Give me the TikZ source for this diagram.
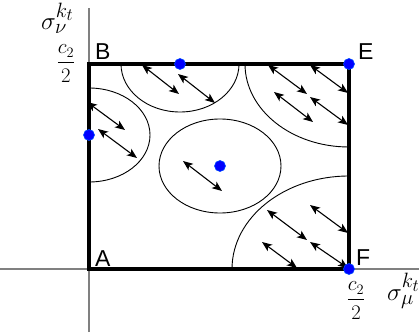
\documentclass[tikz,border=0pt]{standalone}
\usepackage{fontspec}
\setmainfont{Liberation Sans}
\usepackage{amsmath}
\usetikzlibrary{arrows.meta}
\tikzset{
  axisline/.style={draw=gray, line width=1.4pt},
  frameline/.style={draw=black, line width=3.2pt, line join=miter},
  region/.style={draw=black, line width=0.9pt},
  dbl/.style={line width=1.1pt, {Stealth[length=10pt,width=8pt,inset=2.5pt]}-{Stealth[length=10pt,width=8pt,inset=2.5pt]}},
  bluedot/.style={circle, fill=blue, draw=blue!70!cyan, line width=0.6pt, minimum size=11pt, inner sep=0pt},
  cornerlabel/.style={font=\fontsize{23}{26}\selectfont, inner sep=0pt},
  mathlabel/.style={font=\fontsize{24.88}{28}\selectfont, inner sep=0pt},
  fraclabel/.style={font=\fontsize{20.74}{24}\selectfont, inner sep=0pt}
}
\begin{document}
\begin{tikzpicture}[x=1pt,y=-1pt]
\useasboundingbox (0,0) rectangle (419,336);
% axes
\coordinate (vtop) at (89,8);
\coordinate (vbot) at (89,332);
\coordinate (hleft) at (0,269);
\coordinate (hright) at (419,269);
\draw[axisline] (vbot) -- (vtop);
\draw[axisline] (hleft) -- (hright);
% corners
\coordinate (cA) at (89,269);
\coordinate (cB) at (89,64);
\coordinate (cE) at (349,64);
\coordinate (cF) at (349,269);
% regions
\begin{scope}
\clip (cB) rectangle (cF);
\draw[region] (180,64) ellipse [x radius=59pt, y radius=48pt];
\draw[region] (89,135) ellipse [x radius=61pt, y radius=47pt];
\draw[region] (220,166) ellipse [x radius=61pt, y radius=47pt];
\draw[region] (cE) ellipse [x radius=104pt, y radius=83pt];
\draw[region] (cF) ellipse [x radius=117pt, y radius=93pt];
\end{scope}
% arrows
\foreach \i/\sx/\sy/\ex/\ey in {
 1/87/102/125/130, 2/98/129/137/158, 3/142/65/179/94, 4/178/74/215/103,
 5/183/161/222/191, 6/268/65/307/94, 7/310/65/348/93, 8/274/92/313/122,
 9/310/97/348/125, 10/267/210/307/240, 11/310/205/348/233,
 12/262/242/297/268, 13/310/242/348/268}{
 \coordinate (s\i) at (\sx,\sy);
 \coordinate (e\i) at (\ex,\ey);
 \draw[dbl] (s\i) -- (e\i);
}
% frame
\draw[frameline] (cA) -- (cB) -- (cE) -- (cF) -- cycle;
% dots
\node[bluedot] (d1) at (180,64) {};
\node[bluedot] (d2) at (89,135) {};
\node[bluedot] (d3) at (220,166) {};
\node[bluedot] (d4) at (cE) {};
\node[bluedot] (d5) at (cF) {};
% corner labels
\node[cornerlabel, anchor=base west] (lA) at (95,266) {A};
\node[cornerlabel, anchor=base west] (lB) at (95,60) {B};
\node[cornerlabel, anchor=base west] (lE) at (358,60) {E};
\node[cornerlabel, anchor=base west] (lF) at (356,265) {F};
% axis labels
\node[mathlabel, anchor=base west] (snu) at (41,29.5) {$\sigma_\nu^{k_t}$};
\node[mathlabel, anchor=base west] (smu) at (387,300) {$\sigma_\mu^{k_t}$};
\node[fraclabel, anchor=base] (fnu) at (66,68) {$\displaystyle\frac{c_2}{2}$};
\node[fraclabel, anchor=base] (fmu) at (356,305) {$\displaystyle\frac{c_2}{2}$};
\end{tikzpicture}
\end{document}
